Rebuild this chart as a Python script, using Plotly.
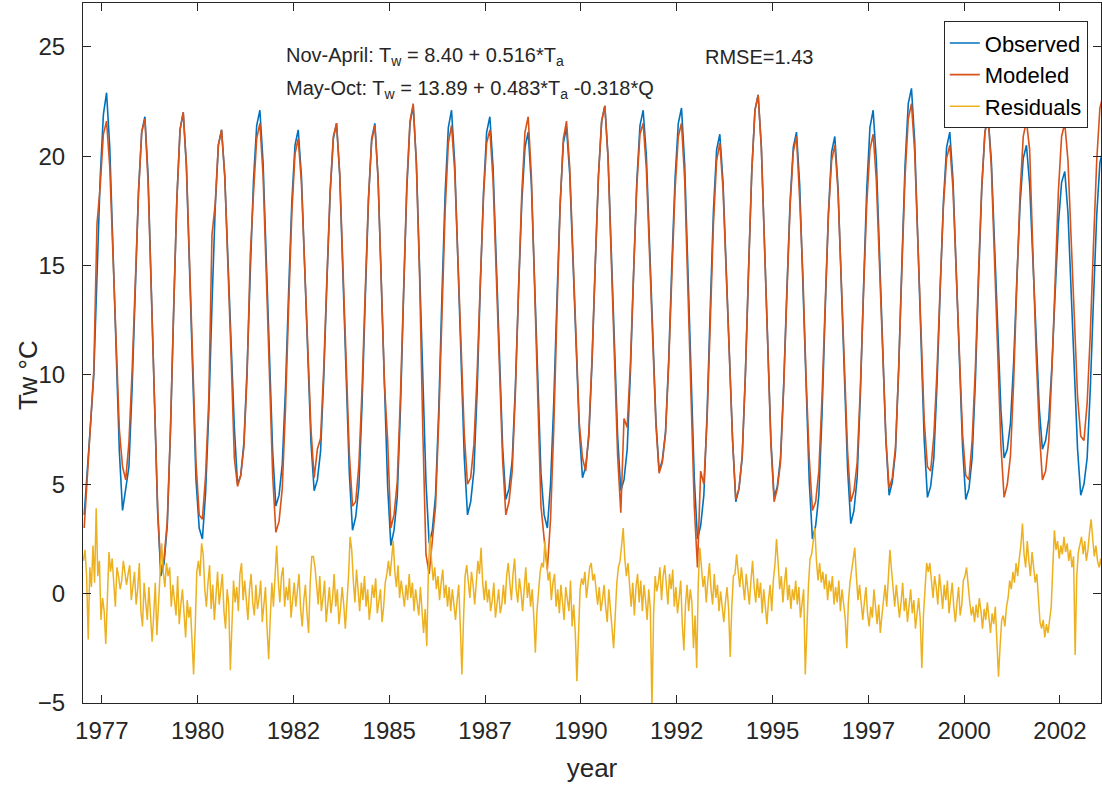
import plotly.graph_objects as go

START_YEAR = 1977

# Monthly observed water temperature (Jan 1977 ... Aug 2003)
observed = [
    3.6, 5.5, 7.8, 10.0, 14.6, 19.0, 21.9, 22.9, 20.4, 15.8, 10.7, 6.5,   # 1977
    3.8, 4.9, 5.8, 9.4, 14.1, 18.4, 21.1, 21.8, 19.1, 14.0, 8.4, 3.7,     # 1978
    0.8, 1.4, 3.1, 7.4, 12.9, 18.0, 21.2, 22.0, 19.5, 14.8, 9.5, 5.2,     # 1979
    3.0, 2.5, 4.6, 8.3, 13.2, 17.6, 20.5, 21.2, 19.1, 15.2, 10.8, 7.6,    # 1980
    5.0, 5.4, 6.9, 10.3, 14.7, 18.9, 21.4, 22.1, 19.7, 15.4, 10.5, 6.5,   # 1981
    4.0, 4.5, 5.9, 9.3, 13.8, 17.9, 20.5, 21.2, 19.1, 15.1, 10.6, 6.9,    # 1982
    4.7, 5.2, 6.5, 9.9, 14.3, 18.3, 20.8, 21.5, 19.1, 14.6, 9.6, 5.5,     # 1983
    2.9, 3.5, 4.9, 8.7, 13.5, 18.0, 20.8, 21.5, 19.0, 14.4, 9.1, 4.9,     # 1984
    2.2, 2.9, 4.4, 8.4, 13.7, 18.5, 21.5, 22.3, 19.7, 14.9, 9.5, 5.1,     # 1985
    2.3, 2.9, 4.5, 8.4, 13.6, 18.3, 21.3, 22.1, 19.7, 15.3, 10.3, 6.2,    # 1986
    3.6, 4.2, 5.6, 9.2, 14.0, 18.3, 21.1, 21.8, 19.5, 15.3, 10.6, 6.7,    # 1987
    4.3, 4.8, 6.1, 9.5, 13.9, 17.9, 20.4, 21.1, 18.7, 14.4, 9.5, 5.5,     # 1988
    3.6, 3.0, 5.0, 8.7, 13.4, 17.8, 20.6, 21.3, 19.2, 15.4, 11.1, 7.5,    # 1989
    5.3, 5.8, 7.2, 10.6, 15.0, 19.1, 21.6, 22.3, 20.0, 15.8, 11.0, 7.2,   # 1990
    4.7, 5.2, 6.6, 10.1, 14.6, 18.8, 21.4, 22.1, 20.0, 16.0, 11.5, 7.9,   # 1991
    5.6, 6.1, 7.4, 10.7, 15.1, 19.0, 21.5, 22.2, 19.6, 14.9, 9.6, 5.3,    # 1992
    2.5, 3.1, 4.5, 8.2, 13.0, 17.5, 20.3, 21.0, 18.8, 14.8, 10.2, 7.0,    # 1993
    4.2, 4.8, 6.2, 10.0, 14.8, 19.3, 22.1, 22.8, 20.4, 16.0, 11.0, 7.0,   # 1994
    4.4, 4.9, 6.2, 9.6, 13.9, 17.9, 20.4, 21.1, 18.7, 14.2, 9.2, 5.1,     # 1995
    2.5, 3.1, 4.5, 8.2, 13.0, 17.4, 20.2, 20.9, 18.6, 14.4, 9.6, 5.7,     # 1996
    3.2, 3.8, 5.3, 9.1, 14.0, 18.5, 21.3, 22.1, 19.8, 15.6, 10.8, 7.0,    # 1997
    4.5, 5.1, 6.5, 10.3, 15.1, 19.6, 22.4, 23.1, 20.7, 16.2, 11.1, 7.0,   # 1998
    4.4, 4.9, 6.2, 9.6, 13.9, 17.9, 20.4, 21.1, 18.9, 14.9, 10.3, 6.7,    # 1999
    4.3, 4.8, 6.2, 9.7, 14.3, 18.5, 21.1, 21.8, 19.8, 16.0, 11.8, 8.4,    # 2000
    6.2, 6.6, 7.8, 10.6, 14.4, 17.8, 19.9, 20.5, 18.7, 15.4, 11.6, 8.5,   # 2001
    6.6, 7.0, 8.0, 10.5, 13.8, 16.9, 18.8, 19.3, 17.4, 13.8, 9.8, 6.6,    # 2002
    4.5, 5.0, 6.2, 9.4, 13.5, 17.3, 19.7, 20.3,                           # 2003
]

# Monthly modeled water temperature
modeled = [
    3.0, 5.3, 7.8, 10.2, 16.9, 18.6, 21.0, 21.6, 19.5, 15.8, 11.5, 7.5,   # 1977
    5.8, 5.2, 6.9, 10.2, 14.3, 18.3, 21.1, 21.7, 18.8, 14.0, 8.5, 3.9,    # 1978
    1.0, 1.6, 3.3, 7.5, 13.0, 18.0, 21.2, 22.0, 19.6, 15.1, 10.1, 6.0,    # 1979
    3.6, 3.4, 5.4, 8.9, 16.4, 17.8, 20.5, 21.2, 19.1, 15.2, 10.8, 6.2,    # 1980
    4.9, 5.4, 6.7, 10.0, 15.5, 18.3, 20.8, 21.5, 19.1, 14.6, 9.5, 5.4,    # 1981
    2.8, 3.3, 4.8, 8.4, 13.1, 17.4, 20.1, 20.8, 18.8, 15.1, 10.9, 7.5,    # 1982
    5.3, 6.6, 7.1, 10.3, 14.5, 18.4, 20.9, 21.5, 19.2, 15.0, 10.3, 6.4,   # 1983
    4.0, 4.2, 5.9, 9.4, 13.9, 18.1, 20.7, 21.4, 19.0, 14.6, 9.6, 7.0,     # 1984
    3.0, 3.6, 5.1, 9.0, 14.1, 18.7, 21.6, 22.4, 19.6, 14.5, 7.5, 1.8,     # 1985
    0.9, 2.6, 4.0, 7.9, 12.6, 17.5, 20.6, 21.4, 19.3, 15.3, 10.9, 7.3,    # 1986
    5.0, 5.3, 6.8, 10.0, 14.2, 18.1, 20.6, 21.2, 18.9, 14.7, 9.9, 6.1,    # 1987
    3.6, 4.2, 5.6, 9.2, 14.0, 18.3, 21.1, 21.8, 19.1, 14.1, 8.6, 4.0,     # 1988
    2.5, 1.1, 3.4, 7.5, 12.8, 17.7, 20.8, 21.6, 19.5, 15.7, 11.4, 7.8,    # 1989
    6.2, 5.6, 7.4, 10.8, 15.1, 19.1, 21.6, 22.3, 19.9, 15.4, 10.4, 6.3,   # 1990
    3.7, 8.0, 7.6, 10.5, 14.7, 18.6, 21.0, 21.5, 19.4, 15.6, 11.3, 7.7,   # 1991
    5.5, 6.0, 7.3, 10.5, 14.6, 18.5, 20.9, 21.5, 18.9, 14.0, 8.5, 4.0,    # 1992
    1.2, 5.6, 5.0, 7.9, 12.3, 16.9, 19.8, 20.6, 18.5, 14.6, 10.2, 7.0,    # 1993
    4.3, 4.8, 6.3, 10.0, 14.8, 19.3, 22.1, 22.8, 20.4, 15.9, 10.9, 6.8,   # 1994
    4.2, 4.8, 6.0, 9.4, 13.7, 17.7, 20.2, 20.9, 18.0, 14.6, 9.9, 6.2,     # 1995
    3.8, 4.2, 5.6, 9.0, 13.3, 17.3, 19.8, 20.5, 18.4, 14.5, 10.1, 6.5,    # 1996
    4.2, 4.7, 6.0, 9.4, 13.8, 17.8, 20.3, 21.0, 18.9, 15.0, 10.6, 7.1,    # 1997
    4.8, 5.3, 6.7, 10.3, 14.8, 19.1, 21.7, 22.4, 20.2, 16.2, 11.6, 7.9,   # 1998
    5.8, 5.6, 7.2, 10.2, 14.1, 17.7, 19.9, 20.5, 18.5, 14.8, 10.7, 7.3,   # 1999
    5.4, 5.2, 7.0, 10.3, 14.7, 18.6, 21.1, 21.8, 19.5, 15.4, 10.7, 6.8,   # 2000
    4.4, 5.0, 6.3, 9.7, 14.2, 18.3, 20.9, 21.6, 20.3, 15.5, 11.1, 7.5,   # 2001
    5.2, 5.6, 7.0, 10.3, 14.5, 18.4, 20.9, 21.5, 19.8, 16.1, 12.2, 9.0,   # 2002
    7.2, 7.0, 8.7, 11.9, 16.0, 19.8, 22.2, 22.8,                          # 2003
]

# Half-monthly residuals
residuals = [
    1.5, 2.0, 0.8, -2.1, 1.2, 0.3, 2.2, 0.5, 3.9, 0.8, 1.5, -1.2, -0.2, -0.8, -2.3, 0.3, 1.9, 1.0, 1.6, 0.5, -0.6, 1.2, 0.8, 0.2,          # 1977
    0.6, 1.5, 1.0, 0.4, 0.9, 1.3, -0.3, 0.5, 1.0, -0.5, 0.2, 1.4, -0.8, -1.5, 0.5, -0.4, -1.2, 0.3, -0.9, -2.2, -1.0, 0.5, -1.9, -0.5,      # 1978
    0.5, 2.3, 1.0, 0.3, 1.4, 0.8, 1.2, -0.6, 0.4, -0.2, -1.0, 0.8, -1.4, -0.5, 0.2, -0.9, -2.0, -0.3, -1.1, -0.6, -2.4, -3.7, -1.5, 1.0,   # 1979
    1.5, 0.8, 2.3, 1.8, 0.2, -0.6, 0.5, 1.3, -0.7, 0.4, -1.2, -0.3, 1.0, -0.5, 0.3, 0.9, -0.8, -1.6, 0.2, -0.5, -3.5, -1.0, 0.6, -0.4,     # 1980
    0.3, -0.8, 0.9, 1.4, -0.3, 0.6, -0.5, -1.2, 0.2, 0.9, -0.4, -1.0, 0.4, -0.7, -0.2, 0.6, -1.3, -0.5, 0.3, -1.6, -3.0, -1.1, 0.5, -0.6,  # 1981
    1.2, 2.2, 0.6, -0.4, 0.8, 1.2, -0.6, 0.3, -0.3, 0.7, -1.1, -0.2, 0.5, -0.6, 0.2, 0.9, -0.7, -1.5, -0.3, 0.4, -0.9, -1.8, 0.5, 1.7,     # 1982
    1.7, 1.2, 0.4, -0.5, 0.8, -0.8, -0.2, 0.6, -1.3, -0.4, 0.3, -0.9, -0.2, 0.9, -0.6, 0.2, -1.4, -0.7, 0.3, -0.5, -1.6, -0.4, 0.8, 2.6,   # 1983
    2.0, 0.6, -0.4, 1.1, 0.3, -0.8, 0.5, -0.3, 0.8, -0.6, 0.2, -1.2, -0.5, 0.4, -0.2, 0.7, -0.9, -0.3, 0.2, -1.3, -0.6, 0.5, 0.9, 1.5,     # 1984
    0.8, 1.6, 2.4, 1.0, 0.3, 1.3, -0.2, 0.6, 0.1, -0.6, 0.4, -0.3, 0.9, -0.2, 0.5, -0.8, 0.2, -0.4, -1.0, 0.3, -0.6, -1.8, -0.7, -2.4,     # 1985
    1.0, 2.7, 1.5, 0.6, 1.2, 0.2, 0.8, -0.3, 0.5, 1.1, -0.2, 0.4, -0.6, 0.3, -0.8, 0.2, -0.5, -1.2, -0.3, 0.4, -1.5, -3.7, -1.2, 0.8,     # 1986
    1.3, 0.6, -0.2, 1.0, 0.4, -0.5, 0.7, 1.5, 0.9, 2.1, 0.5, -0.3, 0.6, -0.4, 0.2, -0.8, -0.3, 0.5, -1.1, -0.4, 0.2, -0.9, -0.5, 0.4,      # 1987
    -0.5, 0.8, 1.4, 0.5, -0.3, 0.9, 1.6, 0.2, -0.4, 0.7, 0.1, -0.8, 0.3, 1.2, -0.2, 0.5, -0.6, 0.2, -1.0, -2.7, -0.8, 0.3, 1.0, 1.4,      # 1988
    1.2, 2.4, 1.5, 0.6, 1.0, -0.3, 0.5, 0.9, -0.6, 0.2, -0.9, 0.4, -0.4, -1.2, 0.3, -0.2, -0.8, 0.6, -1.5, -0.5, -1.8, -4.0, -1.3, 0.2,   # 1989
    0.7, 0.4, 1.0, -0.2, 0.5, 1.2, 1.4, 0.6, 0.9, 0.2, -0.5, 0.3, -0.8, -0.3, 0.4, -0.6, -1.3, 0.2, -0.9, -1.6, -2.5, -0.6, 0.5, 1.2,     # 1990
    1.5, 2.2, 3.0, 1.6, 0.8, 1.4, 0.2, -0.6, 0.5, -1.0, 0.3, 0.9, -0.4, 0.6, -0.8, 0.4, -0.3, -1.2, 0.2, -0.7, -5.3, -1.0, 0.8, 0.1,      # 1991
    0.5, 1.2, -0.3, 0.8, 1.3, 0.4, -0.5, 0.9, 0.2, 1.1, -0.6, 0.3, -0.9, -0.2, 0.6, -1.4, -2.6, -0.5, 0.4, -0.8, 0.2, -0.4, -2.5, -1.0,   # 1992
    -3.4, 0.5, 2.1, 1.2, 0.3, 0.8, -0.4, 0.6, 1.4, 0.2, -0.5, 0.9, -0.2, 0.4, -0.8, 0.1, -0.5, -1.3, -0.4, 0.3, -0.7, -2.9, -0.6, 0.8,    # 1993
    0.9, 1.8, 1.0, 0.3, 1.2, 0.5, -0.3, 0.9, 0.2, -0.5, 0.6, 1.5, 0.3, -0.4, 0.7, -0.2, 0.5, -0.9, 0.2, -0.6, -1.4, -0.3, 0.4, -0.8,      # 1994
    0.6, 1.3, 2.5, 1.4, 0.2, 0.8, -0.4, 0.5, 1.2, -0.3, 0.4, -0.7, 0.2, -0.3, 0.6, -0.5, 0.3, -1.1, -0.5, 0.2, -3.7, -1.3, 0.4, 1.6,      # 1995
    1.8, 2.4, 3.0, 1.5, 0.6, 1.4, 0.5, 1.0, 0.2, 0.9, -0.3, 0.6, 0.1, 0.8, -0.5, 0.3, -0.4, 0.6, -0.8, 0.2, -0.6, -1.1, -2.5, -0.4,       # 1996
    0.5, 1.0, 1.6, 2.1, 0.8, -0.3, 0.4, -0.6, -1.2, -0.4, 0.3, -0.9, -1.5, -0.6, -1.1, 0.2, -0.8, -1.4, -0.5, -1.8, -1.0, -0.3, 0.4, -0.6, # 1997
    0.8, 2.0, 1.1, 0.2, -0.6, 0.4, -0.3, -1.1, -0.4, 0.5, -0.8, -0.2, -1.3, -0.5, 0.2, -0.9, -0.3, -1.6, -0.7, -0.2, -1.2, -3.4, -1.0, 0.3, # 1998
    1.4, 1.0, 1.4, 0.6, -0.2, 0.8, 0.3, -0.5, 0.9, 0.2, -0.7, 0.4, -0.3, 0.6, -0.9, -0.2, 0.5, -0.6, -1.3, -0.4, 0.3, -1.0, -0.5, 0.6,     # 1999
    0.8, 1.2, 0.3, -0.4, -1.0, -0.6, -1.3, -0.5, -1.1, -0.2, -0.8, -1.6, -0.7, -1.2, -0.4, -1.0, -1.8, -0.9, -1.4, -0.6, -1.9, -3.8, -2.4, -1.2,  # 2000
    -1.0, -1.5, -0.6, -0.2, 0.6, 0.2, 1.0, 0.5, 1.4, 0.8, 1.6, 2.2, 3.2, 1.8, 1.2, 2.4, 1.5, 0.8, 1.9, 1.2, 0.5, 0.9, -0.2, -1.3,         # 2001
    -1.6, -1.2, -2.0, -1.4, -1.8, -1.1, -0.6, 1.2, 2.9, 2.0, 2.4, 1.6, 2.2, 1.8, 2.6, 1.9, 2.3, 1.5, 2.0, 1.2, 1.7, -2.8, 0.8, 1.9,       # 2002
    2.2, 2.6, 1.8, 2.4, 1.5, 2.0, 2.8, 3.4, 2.5, 1.7, 2.2, 1.5, 1.2, 1.6, 1.0,                                                         # 2003
]

tick_positions = [1977.5, 1980, 1982.5, 1985, 1987.5, 1990, 1992.5, 1995, 1997.5, 2000, 2002.5]
tick_labels = ["1977", "1980", "1982", "1985", "1987", "1990", "1992", "1995", "1997", "2000", "2002"]
y_ticks = [-5, 0, 5, 10, 15, 20, 25]

t_month = [START_YEAR + (i + 0.5) / 12 for i in range(len(observed))]
t_half = [START_YEAR + (i + 0.5) / 24 for i in range(len(residuals))]

AX = "#262626"
FONT = "Liberation Sans, Arial, Helvetica, sans-serif"

fig = go.Figure()
fig.add_trace(go.Scatter(x=t_month, y=observed, mode="lines", name="Observed",
                         line=dict(color="#0072BD", width=1.6)))
fig.add_trace(go.Scatter(x=t_month, y=modeled, mode="lines", name="Modeled",
                         line=dict(color="#D95319", width=1.6)))
fig.add_trace(go.Scatter(x=t_half, y=residuals, mode="lines", name="Residuals",
                         line=dict(color="#EDB120", width=1.5)))

fig.update_layout(
    width=1102, height=786,
    margin=dict(l=83, r=1, t=3, b=83),
    plot_bgcolor="white", paper_bgcolor="white",
    font=dict(family=FONT, color=AX, size=24),
    showlegend=True,
    legend=dict(x=0.987, y=0.974, xanchor="right", yanchor="top",
                bordercolor=AX, borderwidth=1, bgcolor="white",
                font=dict(size=22, color="black"), tracegroupgap=0,
                itemwidth=30),
)
fig.update_xaxes(
    range=[1977.01, 2003.57], tickvals=tick_positions, ticktext=tick_labels,
    ticks="inside", ticklen=8, tickcolor=AX, showline=True, linecolor=AX,
    linewidth=1, mirror="ticks", showgrid=False, zeroline=False,
    tickfont=dict(size=24, color=AX), ticklabelstandoff=6,
    title=dict(text="year", font=dict(size=26, color=AX), standoff=16),
)
fig.update_yaxes(
    range=[-5, 27], tickvals=y_ticks,
    ticks="inside", ticklen=8, tickcolor=AX, showline=True, linecolor=AX,
    linewidth=1, mirror="ticks", showgrid=False, zeroline=False,
    tickfont=dict(size=24, color=AX), ticklabelstandoff=12,
)

# y-axis label (placed level with the "10" tick like the reference)
fig.add_annotation(xref="paper", yref="y", x=-0.054, y=10, textangle=-90,
                   xanchor="center", yanchor="middle", showarrow=False,
                   text="Tw \u00b0C", font=dict(family=FONT, size=26, color=AX))

ann_font = dict(family=FONT, size=20, color=AX)
fig.add_annotation(xref="paper", yref="paper", x=0.1974, y=0.923,
                   xanchor="left", yanchor="middle", showarrow=False,
                   text="Nov-April: T<sub>w</sub> = 8.40 + 0.516*T<sub>a</sub>", font=ann_font)
fig.add_annotation(xref="paper", yref="paper", x=0.1974, y=0.876,
                   xanchor="left", yanchor="middle", showarrow=False,
                   text="May-Oct: T<sub>w</sub> = 13.89 + 0.483*T<sub>a</sub> -0.318*Q", font=ann_font)
fig.add_annotation(xref="paper", yref="paper", x=0.609, y=0.923,
                   xanchor="left", yanchor="middle", showarrow=False,
                   text="RMSE=1.43", font=ann_font)

fig.write_html("out.html")
